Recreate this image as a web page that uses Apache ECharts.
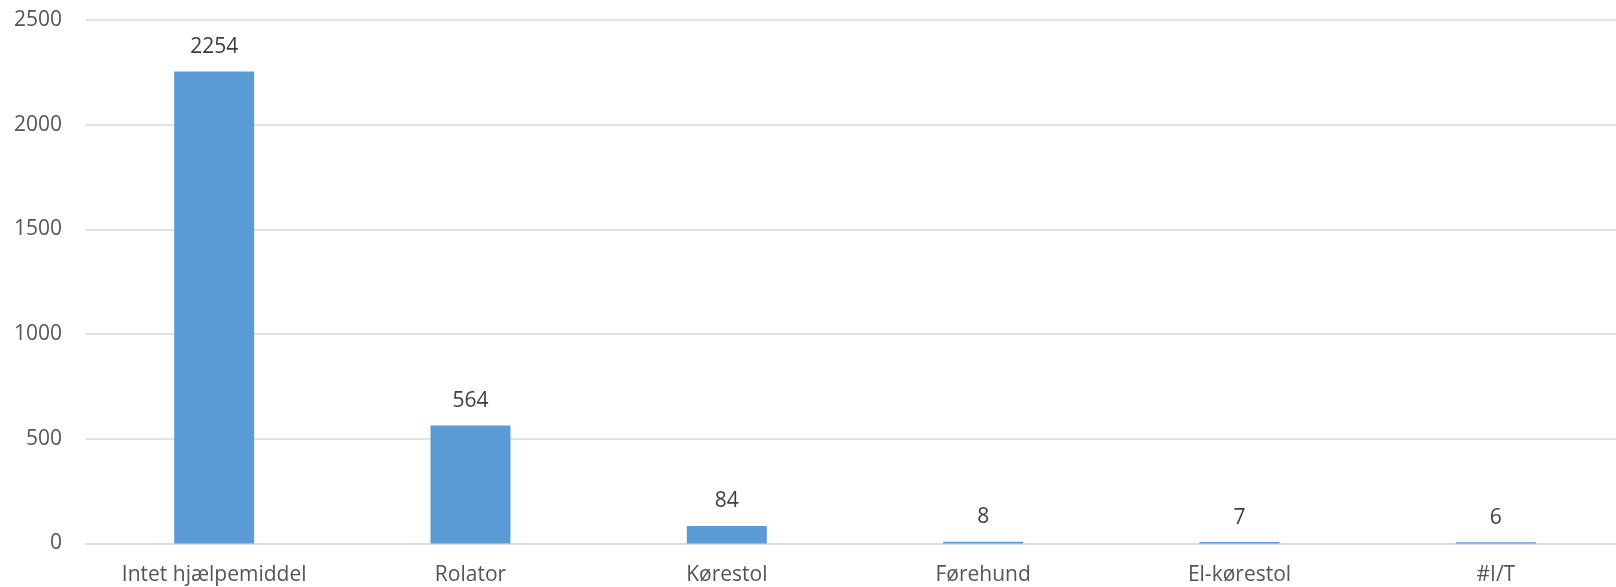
<!DOCTYPE html>
<html>
<head>
<meta charset="utf-8">
<script src="https://cdn.jsdelivr.net/npm/echarts@6/dist/echarts.min.js"></script>
<style>
  html, body { margin: 0; padding: 0; background: #fff; }
  #chart { width: 1616px; height: 587px; }
</style>
</head>
<body>
<div id="chart"></div>
<script>
// Mobility aid categories and respondent counts
const categories = ['Intet hjælpemiddel', 'Rolator', 'Kørestol', 'Førehund', 'El-kørestol', '#I/T'];
const counts = [2254, 564, 84, 8, 7, 6];
const yTicks = { min: 0, max: 2500, interval: 500 };

const chart = echarts.init(document.getElementById('chart'), null, { renderer: 'canvas' });
const textColor = '#555555';
const fontFamily = '"Open Sans", "Liberation Sans", sans-serif';
const fontSize = 21;

chart.setOption({
  animation: false,
  grid: {
    left: 86, top: 20, width: 1538, bottom: 43.5,
    containLabel: false,
    outerBoundsMode: 'none'
  },
  xAxis: {
    type: 'category',
    data: categories,
    axisLine: { show: true, lineStyle: { color: '#d9d9d9', width: 1.5 } },
    axisTick: { show: false },
    axisLabel: { color: textColor, fontSize, fontFamily, margin: 21.5 }
  },
  yAxis: {
    type: 'value',
    min: yTicks.min,
    max: yTicks.max,
    interval: yTicks.interval,
    axisLine: { show: false },
    axisTick: { show: false },
    splitLine: { lineStyle: { color: '#d9d9d9', width: 1.5 } },
    axisLabel: { color: textColor, fontSize, fontFamily, margin: 24, formatter: v => String(v) }
  },
  series: [{
    type: 'bar',
    data: counts,
    barWidth: '31.2%',
    itemStyle: { color: '#5b9bd5' },
    label: {
      show: true,
      position: 'top',
      distance: 14,
      color: '#404040',
      fontSize,
      fontFamily
    }
  }]
});
</script>
</body>
</html>
